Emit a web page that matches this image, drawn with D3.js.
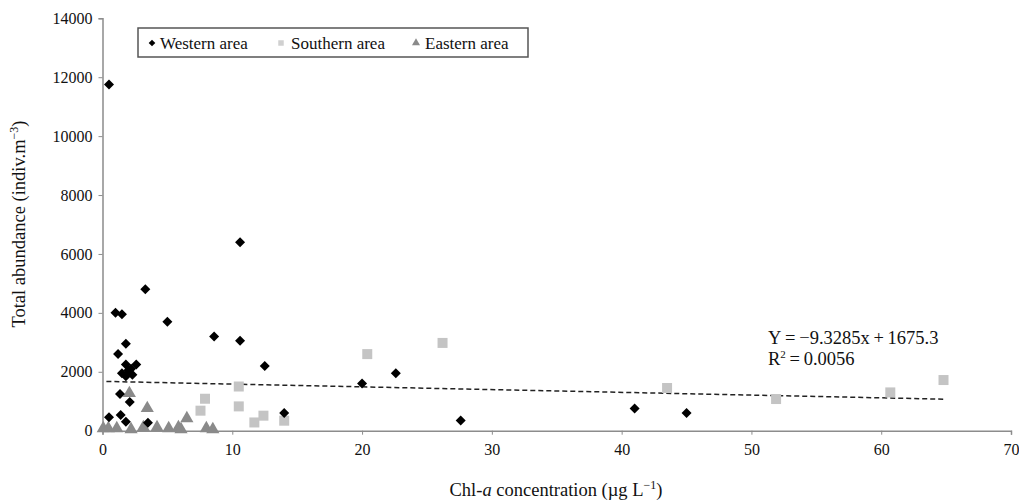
<!DOCTYPE html>
<html>
<head>
<meta charset="utf-8">
<script src="https://cdn.jsdelivr.net/npm/d3@7"></script>
<style>
  body { margin: 0; background: #fff; }
  svg, svg text { font-family: "Liberation Serif", "Times New Roman", serif; }
</style>
</head>
<body>
<svg width="1019" height="502"></svg>
<script>
// western area (black diamonds): [chl-a, abundance]
let western = [
    [0.5, 11750], [1.0, 4000], [1.5, 3950], [3.3, 4800], [5.0, 3700],
    [10.6, 6400], [8.6, 3200], [10.6, 3050], [12.5, 2200], [14.0, 600],
    [20.0, 1600], [22.6, 1950], [27.6, 350], [41.0, 750], [45.0, 600],
    [1.8, 2950], [1.2, 2600], [1.8, 2250], [2.2, 2100], [2.6, 2250],
    [1.5, 1950], [2.3, 1900], [2.0, 2050], [1.8, 1850],
    [1.35, 1250], [2.1, 975], [0.5, 455], [1.4, 530], [1.8, 305], [3.5, 270]
]
let southern = [
    [7.55, 680], [7.9, 1085], [10.5, 1500], [10.5, 825], [11.7, 280],
    [12.4, 510], [14.0, 340], [20.4, 2600], [26.2, 2980], [43.5, 1450],
    [51.9, 1075], [60.7, 1300], [64.8, 1720]
]
let eastern = [
    [2.07, 1270], [3.45, 760], [6.5, 420],
    [0.06, 80], [0.45, 80], [1.1, 80], [2.2, 45], [3.15, 115], [4.2, 110],
    [5.1, 80], [5.85, 110], [6.05, 45], [8.0, 80], [8.5, 45]
]
let xTicks = [0, 10, 20, 30, 40, 50, 60, 70]
let yTicks = [0, 2000, 4000, 6000, 8000, 10000, 12000, 14000]
let slope = -9.3285, intercept = 1675.3, r2 = "0.0056"
let trendRange = [0.3, 65]

var svg = d3.select("svg")
var axisColor = "#8c8c8c"
var serif = "'Liberation Serif', 'Times New Roman', serif"

var x = d3.scaleLinear().domain([0, 70]).range([102.5, 1011]),
    y = d3.scaleLinear().domain([0, 14000]).range([430.7, 18.3]);

// axes
var gx = svg.append("g")
    .attr("transform", "translate(0," + y(0) + ")")
    .call(d3.axisBottom(x).tickValues(xTicks).tickFormat(d3.format("d")).tickSize(4).tickPadding(9))
gx.select(".domain").attr("stroke", axisColor).attr("stroke-width", 1.5)
gx.selectAll(".tick line").attr("stroke", axisColor)
gx.selectAll(".tick text").attr("fill", "#111")
    .style("font-family", serif).style("font-size", "16px")

var gy = svg.append("g")
    .attr("transform", "translate(" + x(0) + ",0)")
    .call(d3.axisLeft(y).tickValues(yTicks).tickFormat(d3.format("d")).tickSize(4).tickPadding(6))
gy.select(".domain").attr("stroke", axisColor).attr("stroke-width", 1.5)
gy.selectAll(".tick line").attr("stroke", axisColor)
gy.selectAll(".tick text").attr("fill", "#111")
    .style("font-family", serif).style("font-size", "16px")

// axis titles
var xt = svg.append("text")
    .attr("x", 556).attr("y", 496)
    .attr("text-anchor", "middle")
    .attr("font-size", "18.5px").attr("fill", "#111")
xt.append("tspan").text("Chl-")
xt.append("tspan").attr("font-style", "italic").text("a")
xt.append("tspan").text(" concentration (\u00b5g L")
xt.append("tspan").attr("font-size", "12px").attr("dy", -7).text("\u22121")
xt.append("tspan").attr("dy", 7).text(")")

var yt = svg.append("text")
    .attr("transform", "translate(25,224) rotate(-90)")
    .attr("text-anchor", "middle")
    .attr("font-size", "18.5px").attr("fill", "#111")
yt.append("tspan").text("Total abundance (indiv.m")
yt.append("tspan").attr("font-size", "12px").attr("dy", -7).text("\u22123")
yt.append("tspan").attr("dy", 7).text(")")

// trend line
svg.append("line")
    .attr("x1", x(trendRange[0])).attr("y1", y(slope * trendRange[0] + intercept))
    .attr("x2", x(trendRange[1])).attr("y2", y(slope * trendRange[1] + intercept))
    .attr("stroke", "#222").attr("stroke-width", 1.5)
    .attr("stroke-dasharray", "5,3")

// points
var diamond = d3.symbol().type(d3.symbolSquare).size(50)
var square = d3.symbol().type(d3.symbolSquare).size(100)
var triangle = d3.symbol().type(d3.symbolTriangle).size(75)

svg.append("g").selectAll("path")
    .data(southern).enter().append("path")
    .attr("d", square)
    .attr("transform", function (d) { return "translate(" + x(d[0]) + "," + y(d[1]) + ")"; })
    .attr("fill", "#c4c4c4")

svg.append("g").selectAll("path")
    .data(eastern).enter().append("path")
    .attr("d", triangle)
    .attr("transform", function (d) { return "translate(" + x(d[0]) + "," + y(d[1]) + ")"; })
    .attr("fill", "#8a8a8a")

svg.append("g").selectAll("path")
    .data(western).enter().append("path")
    .attr("d", diamond)
    .attr("transform", function (d) { return "translate(" + x(d[0]) + "," + y(d[1]) + ") rotate(45)"; })
    .attr("fill", "#000")

// equation
svg.append("text").attr("x", 768).attr("y", 344)
    .attr("font-size", "18.5px").attr("fill", "#111")
    .text("Y\u2009=\u2009\u2212" + Math.abs(slope) + "x\u2009+\u2009" + intercept)
var r = svg.append("text").attr("x", 768).attr("y", 365)
    .attr("font-size", "18.5px").attr("fill", "#111")
r.append("tspan").text("R")
r.append("tspan").attr("font-size", "11px").attr("dy", -7).text("2")
r.append("tspan").attr("dy", 7).text("\u2009=\u2009" + r2)

// legend
var lg = svg.append("g")
lg.append("rect").attr("x", 138).attr("y", 28).attr("width", 390).attr("height", 29)
    .attr("fill", "#fff").attr("stroke", "#555").attr("stroke-width", 1.5)
var legendItems = [
    { name: "Western area", sym: d3.symbol().type(d3.symbolSquare).size(22), rot: 45, color: "#000", sx: 152, tx: 160 },
    { name: "Southern area", sym: d3.symbol().type(d3.symbolSquare).size(30), rot: 0, color: "#d0d0d0", sx: 281, tx: 291 },
    { name: "Eastern area", sym: d3.symbol().type(d3.symbolTriangle).size(28), rot: 0, color: "#8a8a8a", sx: 416, tx: 425 }
]
legendItems.forEach(function (d) {
    lg.append("path").attr("d", d.sym)
        .attr("transform", "translate(" + d.sx + ",43) rotate(" + d.rot + ")")
        .attr("fill", d.color)
    lg.append("text").attr("x", d.tx).attr("y", 48.5)
        .attr("font-size", "17px").attr("fill", "#111").text(d.name)
})
</script>
</body>
</html>
